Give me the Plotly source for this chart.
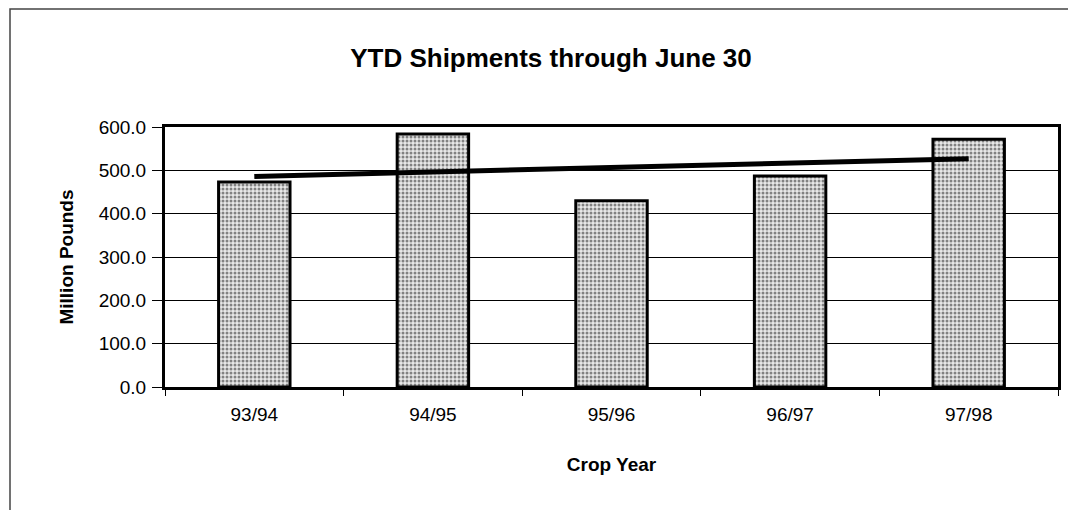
import plotly.graph_objects as go

categories = ["93/94", "94/95", "95/96", "96/97", "97/98"]
shipments = [473, 584, 430, 487, 572]
trend_x = ["93/94", "97/98"]
trend_y = [486, 527]
y_ticks = [0, 100, 200, 300, 400, 500, 600]
y_tick_labels = ["0.0", "100.0", "200.0", "300.0", "400.0", "500.0", "600.0"]

# the page body has an 8px default margin, so the figure is drawn 8px in
OFF = 8
W, H = 1076 - OFF, 510 - OFF
L, R, T, B = 165 - OFF, 18, 127 - OFF, 123
pw = W - L - R
ph = H - T - B

fig = go.Figure()
fig.add_trace(go.Bar(
    x=categories, y=shipments,
    marker=dict(
        color="#e6e6e6",
        line=dict(color="black", width=3),
        pattern=dict(shape=".", fgcolor="#1a1a1a", bgcolor="#e8e8e8", size=4, solidity=0.45),
    ),
    showlegend=False,
))
fig.add_trace(go.Scatter(
    x=trend_x, y=trend_y, mode="lines",
    line=dict(color="black", width=5),
    showlegend=False,
))

font = "Liberation Sans, Arial, sans-serif"
fig.update_layout(
    width=W, height=H,
    margin=dict(l=L, r=R, t=T, b=B),
    paper_bgcolor="white", plot_bgcolor="white",
    bargap=0.6,
    font=dict(family=font, color="black", size=19),
    title=dict(text="<b>YTD Shipments through June 30</b>", x=(551 - OFF) / W, xanchor="center",
               y=1 - (58 - OFF) / H, yanchor="middle", font=dict(size=26, family=font, color="black")),
    xaxis=dict(
        type="category", tickson="boundaries", ticks="outside", ticklen=6, tickwidth=1, tickcolor="black",
        showline=True, linecolor="black", linewidth=3, mirror=True, showgrid=False,
        tickfont=dict(size=19), ticklabelstandoff=8,
        title=dict(text="<b>Crop Year</b>", font=dict(size=19), standoff=34),
    ),
    yaxis=dict(
        range=[0, 600], tickvals=y_ticks, ticktext=y_tick_labels,
        ticks="outside", ticklen=10, tickwidth=1, tickcolor="black",
        showline=True, linecolor="black", linewidth=3, mirror=True,
        showgrid=True, gridcolor="black", gridwidth=1, zeroline=False,
        tickfont=dict(size=19), ticklabelstandoff=2,
        title=dict(text="<b>Million Pounds</b>", font=dict(size=19), standoff=21),
    ),
    shapes=[dict(
        type="rect", xref="paper", yref="paper",
        x0=(10 - OFF - L) / pw, x1=(W + 20 - L) / pw,
        y0=-(B + 20) / ph, y1=(ph + T - (9 - OFF)) / ph,
        line=dict(color="#444444", width=1.5), fillcolor="rgba(0,0,0,0)", layer="below",
    )],
)

fig.write_html("out.html")
